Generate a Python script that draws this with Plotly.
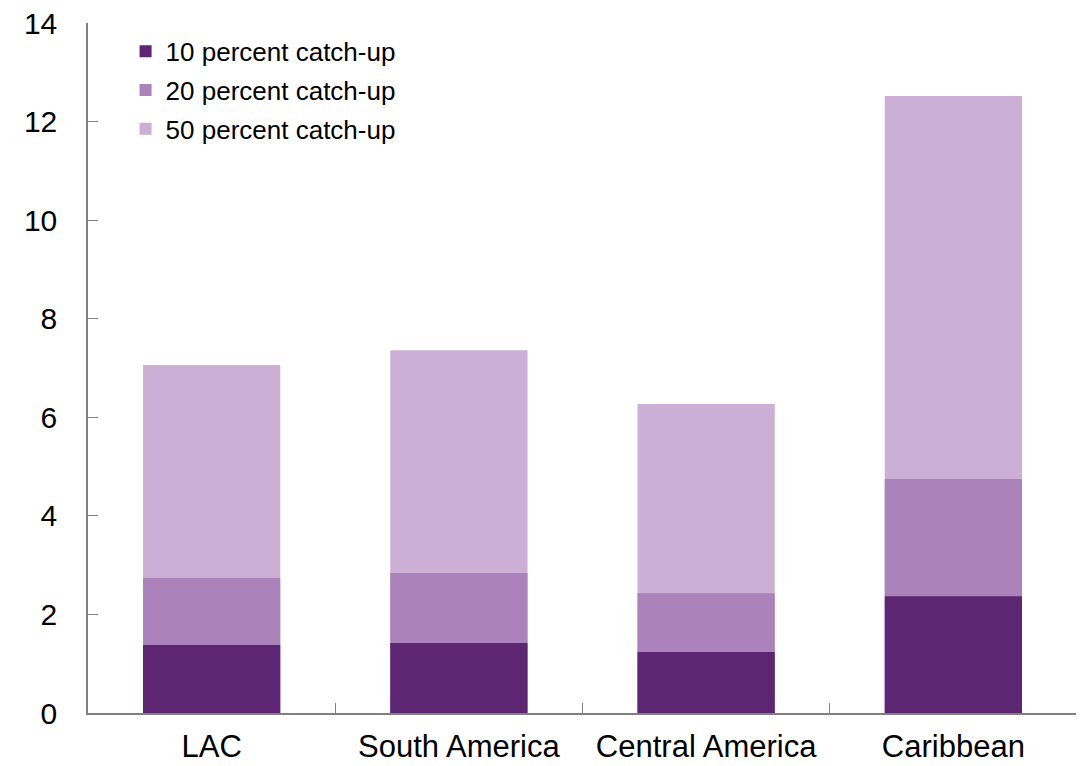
import plotly.graph_objects as go

categories = ["LAC", "South America", "Central America", "Caribbean"]
catch10 = [1.38, 1.42, 1.24, 2.37]
catch20 = [2.74, 2.84, 2.43, 4.75]
catch50 = [7.06, 7.36, 6.27, 12.52]
y_ticks = [0, 2, 4, 6, 8, 10, 12, 14]

colors = {"10": "#5C2672", "20": "#AB82B9", "50": "#CDAED4"}

fig = go.Figure()
fig.add_trace(go.Bar(x=categories, y=catch50, name="50 percent catch-up", legendgroup="c50", legendrank=3,
                     marker=dict(color=colors["50"], line=dict(width=0))))
fig.add_trace(go.Bar(x=categories, y=catch20, name="20 percent catch-up", legendgroup="c20", legendrank=2,
                     marker=dict(color=colors["20"], line=dict(width=0))))
fig.add_trace(go.Bar(x=categories, y=catch10, name="10 percent catch-up", legendgroup="c10", legendrank=1,
                     marker=dict(color=colors["10"], line=dict(width=0))))

fig.update_layout(
    barmode="overlay",
    bargap=0.445,
    width=1076, height=758,
    margin=dict(l=80, r=7, t=15, b=53, autoexpand=False),
    plot_bgcolor="white", paper_bgcolor="white",
    font=dict(family="Liberation Sans, Arial, sans-serif", color="black"),
    legend=dict(traceorder="grouped", x=0.038, y=0.993, xanchor="left", yanchor="top",
                font=dict(size=26), bgcolor="rgba(0,0,0,0)", itemwidth=30, tracegroupgap=2),
    xaxis=dict(showline=True, linecolor="#808080", linewidth=1.5, ticks="inside", ticklen=10,
               tickcolor="#808080", tickson="boundaries", tickfont=dict(size=31), showgrid=False,
               ticklabelstandoff=5, automargin=False),
    yaxis=dict(range=[0, 14], tickvals=y_ticks, showline=True, linecolor="#808080", linewidth=1.5,
               ticks="inside", ticklen=10, tickcolor="#808080", tickfont=dict(size=30),
               showgrid=False, zeroline=False, ticklabelstandoff=23, automargin=False,
               ticklabeloverflow="allow"),
)

fig.write_html("out.html")
